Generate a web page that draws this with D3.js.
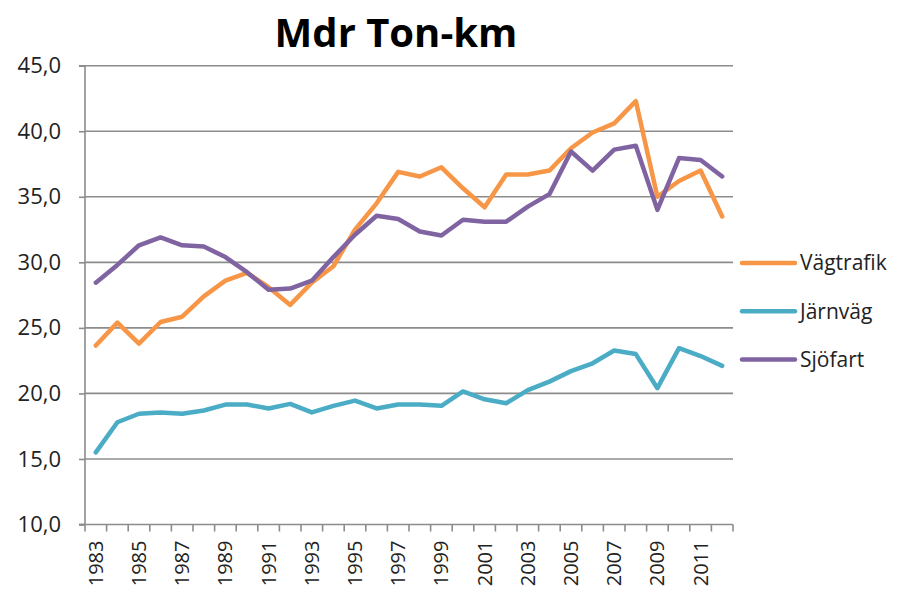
<!DOCTYPE html>
<html><head><meta charset="utf-8">
<script src="https://cdn.jsdelivr.net/npm/d3@7"></script>
<style>
body{margin:0;background:#fff;}
svg{display:block;font-family:"Open Sans",sans-serif;}
</style></head>
<body><svg id="c" width="902" height="595"></svg>
<script>
const years = d3.range(1983, 2013).map(String);
const vagtrafik = [23.65,25.4,23.8,25.45,25.85,27.4,28.6,29.2,28.1,26.75,28.45,29.7,32.5,34.5,36.9,36.55,37.25,35.65,34.2,36.7,36.7,37.0,38.7,39.9,40.6,42.3,35.0,36.2,37.0,33.5];
const jarnvag = [15.5,17.8,18.45,18.55,18.45,18.7,19.15,19.15,18.85,19.2,18.55,19.05,19.45,18.85,19.15,19.15,19.05,20.15,19.55,19.25,20.25,20.9,21.7,22.3,23.27,23.0,20.4,23.45,22.85,22.1];
const sjofart = [28.45,29.8,31.3,31.9,31.3,31.2,30.4,29.25,27.9,28.0,28.6,30.4,32.1,33.55,33.3,32.35,32.05,33.25,33.1,33.1,34.25,35.2,38.45,37.0,38.6,38.9,34.0,37.95,37.8,36.55];
const yTicks = [10,15,20,25,30,35,40,45];
const seriesNames = ["Vägtrafik","Järnväg","Sjöfart"];
const seriesColors = ["#F79646","#4BACC6","#8064A2"];
const title = "Mdr Ton-km";

const series = [vagtrafik, jarnvag, sjofart];
const svg = d3.select("#c");
const L = 85, R = 733, T = 65.7, B = 524.5;

const x = d3.scaleBand().domain(years).range([L, R]);
const y = d3.scaleLinear().domain([10, 45]).range([B, T]);

// gridlines
svg.append("g").selectAll("line").data(yTicks.filter(d => d > 10)).join("line")
  .attr("x1", L).attr("x2", R).attr("y1", d => y(d)).attr("y2", d => y(d))
  .attr("stroke", "#8c8c8c").attr("stroke-width", 1.6);

// y axis
const ya = svg.append("g").attr("transform", `translate(${L},0)`)
  .call(d3.axisLeft(y).tickValues(yTicks).tickSize(6).tickPadding(18)
    .tickFormat(d => d3.format(".1f")(d).replace(".", ",")));
ya.select(".domain").attr("stroke", "#8c8c8c").attr("stroke-width", 1.6).attr("d", `M-6,${T}H0V${B}H-6`);
ya.selectAll(".tick line").attr("stroke", "#8c8c8c").attr("stroke-width", 1.6);
ya.selectAll(".tick text").attr("font-size", 22).attr("fill", "#222")
  .attr("font-family", "Open Sans");

// x axis
const xa = svg.append("g").attr("transform", `translate(0,${B})`);
xa.append("line").attr("x1", L - 6).attr("x2", R).attr("y1", 0).attr("y2", 0)
  .attr("stroke", "#8c8c8c").attr("stroke-width", 1.6);
const bounds = years.map(d => x(d)).concat([R]);
xa.selectAll("line.t").data(bounds).join("line").attr("class", "t")
  .attr("x1", d => d).attr("x2", d => d).attr("y1", 0).attr("y2", 7)
  .attr("stroke", "#8c8c8c").attr("stroke-width", 1.6);
xa.selectAll("text").data(years.filter((d, i) => i % 2 === 0)).join("text")
  .attr("transform", d => `translate(${x(d) + x.bandwidth() / 2 + 7},16) rotate(-90)`)
  .attr("text-anchor", "end").attr("font-size", 20).attr("fill", "#222")
  .text(d => d);

// lines
const line = d3.line().x((d, i) => x(years[i]) + x.bandwidth() / 2).y(d => y(d));
svg.append("g").selectAll("path").data(series).join("path")
  .attr("d", d => line(d)).attr("fill", "none")
  .attr("stroke", (d, i) => seriesColors[i]).attr("stroke-width", 4.5)
  .attr("stroke-linejoin", "round").attr("stroke-linecap", "round");

// legend
const lg = svg.append("g").selectAll("g").data(seriesNames).join("g")
  .attr("transform", (d, i) => `translate(742,${263 + i * 48.2})`);
lg.append("line").attr("x1", 0).attr("x2", 53).attr("stroke", (d, i) => seriesColors[i])
  .attr("stroke-width", 4.5).attr("stroke-linecap", "round");
lg.append("text").attr("x", 58).attr("dy", "0.35em").attr("font-size", 21).attr("fill", "#222").text(d => d);

// title
svg.append("text").attr("x", 396).attr("y", 47).attr("text-anchor", "middle")
  .attr("font-size", 40).attr("font-weight", "bold").attr("fill", "#000").text(title);
</script></body></html>
